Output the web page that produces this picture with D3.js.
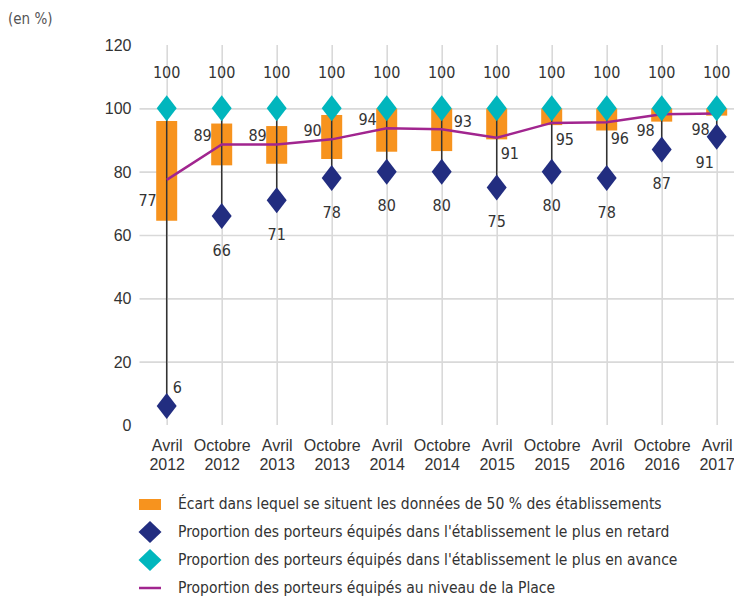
<!DOCTYPE html>
<html>
<head>
<meta charset="utf-8">
<script src="https://cdn.jsdelivr.net/npm/d3@7/dist/d3.min.js"></script>
<style>
	body { margin:0; background:#fff; }
	svg { display:block; font-family:"Liberation Sans Narrow","Arial Narrow","DejaVu Sans Condensed",sans-serif; font-stretch:condensed; }
	text { fill:#333; }
	.grid line { stroke:#d9d9d9; stroke-width:1.6; }
	.grid path { display:none; }
	.axis path { display:none; }
	.axis text { font-size:16px; }
	.lbl { font-size:16px; }
	.leg { font-size:15.5px; }
</style>
</head>
<body>
<svg width="734" height="598"></svg>
<script>

/* ----------------------------------------------------------
data
---------------------------------------------------------- */

var periods = ["Avril 2012","Octobre 2012","Avril 2013","Octobre 2013","Avril 2014","Octobre 2014",
	"Avril 2015","Octobre 2015","Avril 2016","Octobre 2016","Avril 2017"];
var q1Values = [64.5, 82, 82.5, 84, 86.3, 86.5, 90.2, 94.7, 93, 95.8, 97.7];
var q3Values = [96, 95.2, 94.4, 97.9, 100, 100, 100, 100, 100, 100, 100];
var minValues = [6, 66, 71, 78, 80, 80, 75, 80, 78, 87, 91];
var maxValues = [100, 100, 100, 100, 100, 100, 100, 100, 100, 100, 100];
var placeValues = [77.4, 88.6, 88.6, 90.2, 93.7, 93.4, 90.7, 95.4, 95.6, 98.1, 98.4];
var yTicks = [0, 20, 40, 60, 80, 100, 120];

// where the labels sit around their point
var placeLabelSide = ["l","lu","lu","lu","lu","ru","rd","rd","rd","ld","ld"];
var minLabelSide = ["ru","b","b","b","b","b","b","b","b","b","lb"];

var legendVals = [
	"Écart dans lequel se situent les données de 50 % des établissements",
	"Proportion des porteurs équipés dans l'établissement le plus en retard",
	"Proportion des porteurs équipés dans l'établissement le plus en avance",
	"Proportion des porteurs équipés au niveau de la Place"
];

/* ----------------------------------------------------------
setting
---------------------------------------------------------- */

var cOrange = "#f7931e", cCyan = "#00b6bd", cNavy = "#222d80", cPurple = "#a1258f";
var svg = d3.select("svg");
var plotL = 139.5, plotR = 734, plotT = 45, plotB = 425;

var x = d3.scalePoint().domain(periods).range([166.7, 716.7]);
var y = d3.scaleLinear().domain([0, 120]).range([plotB, plotT]);

function diamond(w, h){
	return "M0," + (-h/2) + "L" + (w/2) + ",0L0," + (h/2) + "L" + (-w/2) + ",0Z";
}

svg.append("text").attr("x", 8).attr("y", 24).style("font-size", "15px").style("fill", "#555")
	.text("(en %)");

//grid
svg.append("g").attr("class", "grid").attr("transform", "translate(" + plotL + ",0)")
	.call(d3.axisLeft(y).tickValues(yTicks.filter(function(d){ return d > 0 && d < 120; }))
		.tickSize(-(plotR - plotL)).tickFormat(""));
svg.append("g").attr("class", "grid").attr("transform", "translate(0," + plotB + ")")
	.call(d3.axisBottom(x).tickSize(-(plotB - plotT)).tickFormat(""));

//axis
svg.append("g").attr("class", "axis").attr("transform", "translate(" + (plotL - 8) + ",0)")
	.call(d3.axisLeft(y).tickValues(yTicks).tickSize(0).tickPadding(0))
	.selectAll("text").attr("dy", "0.35em");

var xAxis = svg.append("g").attr("class", "axis").attr("transform", "translate(0," + plotB + ")")
	.call(d3.axisBottom(x).tickSize(0).tickPadding(0));
xAxis.selectAll("text").each(function(d){
	var t = d3.select(this).text("").attr("y", 0).attr("dy", null);
	var parts = d.split(" ");
	t.append("tspan").attr("x", 0).attr("y", 26).text(parts[0]);
	t.append("tspan").attr("x", 0).attr("y", 45).text(parts[1]);
});

/* ----------------------------------------------------------
marks
---------------------------------------------------------- */

svg.append("g").selectAll("rect").data(periods).enter().append("rect")
	.attr("x", function(d){ return x(d) - 10.5; })
	.attr("width", 21)
	.attr("y", function(d, i){ return y(q3Values[i]); })
	.attr("height", function(d, i){ return y(q1Values[i]) - y(q3Values[i]); })
	.style("fill", cOrange);

svg.append("g").selectAll("line").data(periods).enter().append("line")
	.attr("x1", function(d){ return x(d); }).attr("x2", function(d){ return x(d); })
	.attr("y1", function(d, i){ return y(minValues[i]); })
	.attr("y2", function(d, i){ return y(maxValues[i]); })
	.style("stroke", "#333").style("stroke-width", 1.5);

var line = d3.line()
	.x(function(d, i){ return x(periods[i]); })
	.y(function(d){ return y(d); });
svg.append("path").attr("d", line(placeValues))
	.style("fill", "none").style("stroke", cPurple).style("stroke-width", 2.5);

svg.append("g").selectAll("path").data(minValues).enter().append("path")
	.attr("d", diamond(20, 26))
	.attr("transform", function(d, i){ return "translate(" + x(periods[i]) + "," + y(d) + ")"; })
	.style("fill", cNavy);

svg.append("g").selectAll("path").data(maxValues).enter().append("path")
	.attr("d", diamond(20, 26))
	.attr("transform", function(d, i){ return "translate(" + x(periods[i]) + "," + y(d) + ")"; })
	.style("fill", cCyan);

/* ----------------------------------------------------------
labels
---------------------------------------------------------- */

var sideOff = {
	l:  {dx:-10, dy:20, a:"end"},
	lu: {dx:-10, dy:-9, a:"end"},
	ru: {dx:12, dy:-8, a:"start"},
	rd: {dx:4, dy:16, a:"start"},
	ld: {dx:-7, dy:16, a:"end"},
	b:  {dx:0, dy:34, a:"middle"},
	lb: {dx:-12, dy:26, a:"middle"}
};
var fmt = d3.format(".0f");

function labels(vals, sides){
	svg.append("g").selectAll("text").data(vals).enter().append("text")
		.attr("class", "lbl")
		.attr("x", function(d, i){ return x(periods[i]) + sideOff[sides[i]].dx; })
		.attr("y", function(d, i){ return y(d) + sideOff[sides[i]].dy; })
		.attr("dy", "0.35em")
		.attr("text-anchor", function(d, i){ return sideOff[sides[i]].a; })
		.text(function(d){ return fmt(d); });
}
labels(placeValues, placeLabelSide);
sideOff.ru = {dx:6, dy:-19, a:"start"};
labels(minValues, minLabelSide);

svg.append("g").selectAll("text").data(maxValues).enter().append("text")
	.attr("class", "lbl")
	.attr("x", function(d, i){ return x(periods[i]); })
	.attr("y", function(d){ return y(d) - 36; })
	.attr("dy", "0.35em")
	.attr("text-anchor", "middle")
	.text(function(d){ return fmt(d); });

/* ----------------------------------------------------------
legend
---------------------------------------------------------- */

var gLegend = svg.append("g").attr("transform", "translate(150,504)");
var legs = gLegend.selectAll(".legends").data(legendVals).enter().append("g")
	.attr("class", "legends")
	.attr("transform", function(d, i){ return "translate(0," + (i * 28) + ")"; });

legs.each(function(d, i){
	var g = d3.select(this);
	if(i == 0){
		g.append("rect").attr("x", -11).attr("y", -5).attr("width", 22).attr("height", 11).style("fill", cOrange);
	} else if(i == 3){
		g.append("line").attr("x1", -11).attr("x2", 11).style("stroke", cPurple).style("stroke-width", 2.5);
	} else {
		g.append("path").attr("d", diamond(23, 22)).style("fill", i == 1 ? cNavy : cCyan);
	}
});
legs.append("text").attr("class", "leg")
	.attr("x", 28).attr("dy", "0.35em")
	.text(function(d){ return d; });

</script>
</body>
</html>
